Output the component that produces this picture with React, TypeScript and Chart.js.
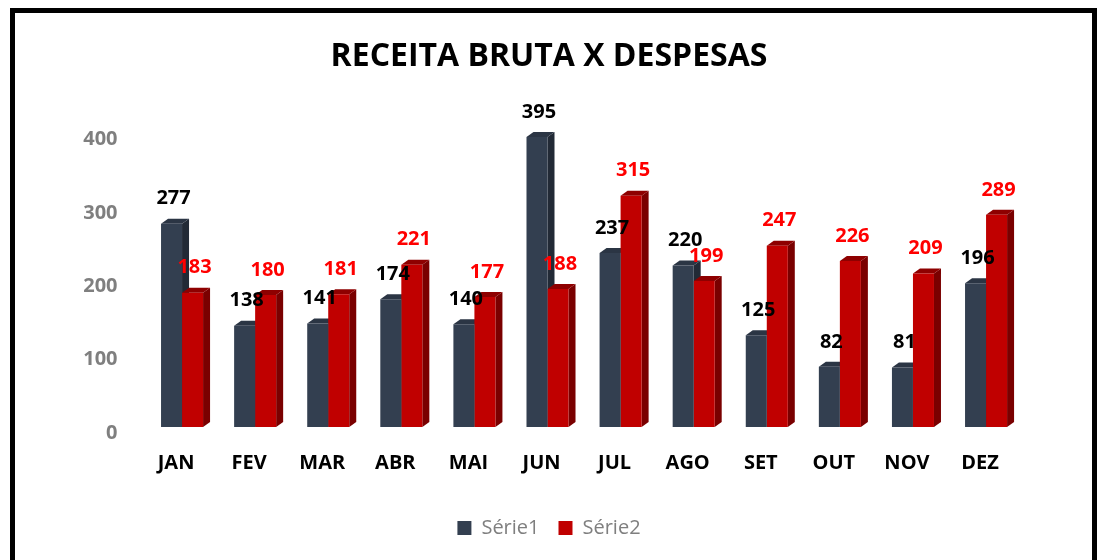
import React, { useEffect, useRef } from 'react';
import { Chart, registerables } from 'chart.js';

Chart.register(...registerables);

const chartTitle = 'RECEITA BRUTA X DESPESAS';
const categories = ['JAN', 'FEV', 'MAR', 'ABR', 'MAI', 'JUN', 'JUL', 'AGO', 'SET', 'OUT', 'NOV', 'DEZ'];
const seriesNames = ['Série1', 'Série2'];
const serie1 = [277, 138, 141, 174, 140, 395, 237, 220, 125, 82, 81, 196];
const serie2 = [183, 180, 181, 221, 177, 188, 315, 199, 247, 226, 209, 289];
const yMin = 0;
const yMax = 400;
const yStep = 100;

const FONT = '"Open Sans", "Noto Sans", sans-serif';
const frontColors = ['#333F50', '#C00000'];
const sideColors = ['#222A36', '#7A0000'];
const topColors = ['#2B3544', '#8E0000'];
const labelColors = ['#000000', '#FF0000'];

const framePlugin = {
  id: 'frame',
  beforeDraw(chart: any) {
    const ctx = chart.ctx;
    ctx.save();
    ctx.fillStyle = '#ffffff';
    ctx.fillRect(0, 0, chart.width, chart.height);
    ctx.fillStyle = '#000000';
    ctx.fillRect(10, 8, 5, chart.height - 8);
    ctx.fillRect(10, 8, 1087, 5);
    ctx.fillRect(1092, 8, 5, chart.height - 8);
    ctx.restore();
  },
};

const depthPlugin = {
  id: 'depth3d',
  beforeDatasetsDraw(chart: any) {
    const ctx = chart.ctx;
    const dx = 7;
    const dy = 5;
    ctx.save();
    chart.data.datasets.forEach((_ds: any, di: number) => {
      const meta = chart.getDatasetMeta(di);
      meta.data.forEach((bar: any) => {
        const { x, y, base, width } = bar.getProps(['x', 'y', 'base', 'width'], true);
        const l = x - width / 2;
        const r = x + width / 2;
        ctx.fillStyle = sideColors[di];
        ctx.beginPath();
        ctx.moveTo(r, y);
        ctx.lineTo(r + dx, y - dy);
        ctx.lineTo(r + dx, base - dy);
        ctx.lineTo(r, base);
        ctx.closePath();
        ctx.fill();
        ctx.fillStyle = topColors[di];
        ctx.beginPath();
        ctx.moveTo(l, y);
        ctx.lineTo(l + dx, y - dy);
        ctx.lineTo(r + dx, y - dy);
        ctx.lineTo(r, y);
        ctx.closePath();
        ctx.fill();
      });
    });
    ctx.restore();
  },
};

const valueLabelPlugin = {
  id: 'valueLabels',
  afterDatasetsDraw(chart: any) {
    const ctx = chart.ctx;
    ctx.save();
    ctx.font = `bold 20px ${FONT}`;
    ctx.textAlign = 'center';
    ctx.textBaseline = 'middle';
    chart.data.datasets.forEach((ds: any, di: number) => {
      const meta = chart.getDatasetMeta(di);
      ctx.fillStyle = labelColors[di];
      meta.data.forEach((bar: any, i: number) => {
        const { x, y } = bar.getProps(['x', 'y'], true);
        ctx.fillText(String(ds.data[i]), x + 2, y - 25);
      });
    });
    ctx.restore();
  },
};

export default function App() {
  const canvasRef = useRef<HTMLCanvasElement | null>(null);

  useEffect(() => {
    if (!canvasRef.current) return;
    const chart = new Chart(canvasRef.current, {
      type: 'bar',
      data: {
        labels: categories,
        datasets: [
          {
            label: seriesNames[0],
            data: serie1,
            backgroundColor: frontColors[0],
            borderWidth: 0,
            barPercentage: 1,
            categoryPercentage: 0.575,
            clip: false as any,
          },
          {
            label: seriesNames[1],
            data: serie2,
            backgroundColor: frontColors[1],
            borderWidth: 0,
            barPercentage: 1,
            categoryPercentage: 0.575,
            clip: false as any,
          },
        ],
      },
      options: {
        responsive: false,
        animation: false,
        devicePixelRatio: 1,
        layout: { padding: { left: 0, right: 0, top: 0, bottom: 12 } },
        plugins: {
          title: {
            display: true,
            text: chartTitle,
            color: '#000000',
            font: { family: FONT, size: 32, weight: 'bold' },
            padding: { top: 38, bottom: 57 },
          },
          legend: {
            display: true,
            position: 'bottom',
            labels: {
              boxWidth: 14,
              boxHeight: 14,
              padding: 19,
              color: '#7F7F7F',
              font: { family: FONT, size: 20 },
            },
          },
          tooltip: { enabled: false },
        },
        scales: {
          x: {
            grid: { display: false, drawTicks: false },
            border: { display: false },
            ticks: {
              color: '#000000',
              font: { family: FONT, size: 20, weight: 'bold' },
              padding: 24,
              labelOffset: -6,
            },
            afterFit: (s: any) => {
              s.height = 72;
            },
          },
          y: {
            min: yMin,
            max: yMax,
            grid: { display: false, drawTicks: false },
            border: { display: false },
            ticks: {
              stepSize: yStep,
              color: '#7F7F7F',
              font: { family: FONT, size: 20, weight: 'bold' },
              padding: 28,
              labelOffset: 6,
            },
            afterFit: (s: any) => {
              s.width = 145.5;
            },
          },
          yRight: {
            position: 'right',
            display: true,
            grid: { display: false, drawTicks: false },
            border: { display: false },
            ticks: { display: false },
            afterFit: (s: any) => {
              s.width = 75.4;
            },
          },
        },
      },
      plugins: [framePlugin, depthPlugin, valueLabelPlugin],
    } as any);
    return () => chart.destroy();
  }, []);

  return (
    <div style={{ position: 'absolute', left: 0, top: 0, width: 1098, height: 560 }}>
      <canvas ref={canvasRef} width={1098} height={560} style={{ display: 'block' }} />
    </div>
  );
}
